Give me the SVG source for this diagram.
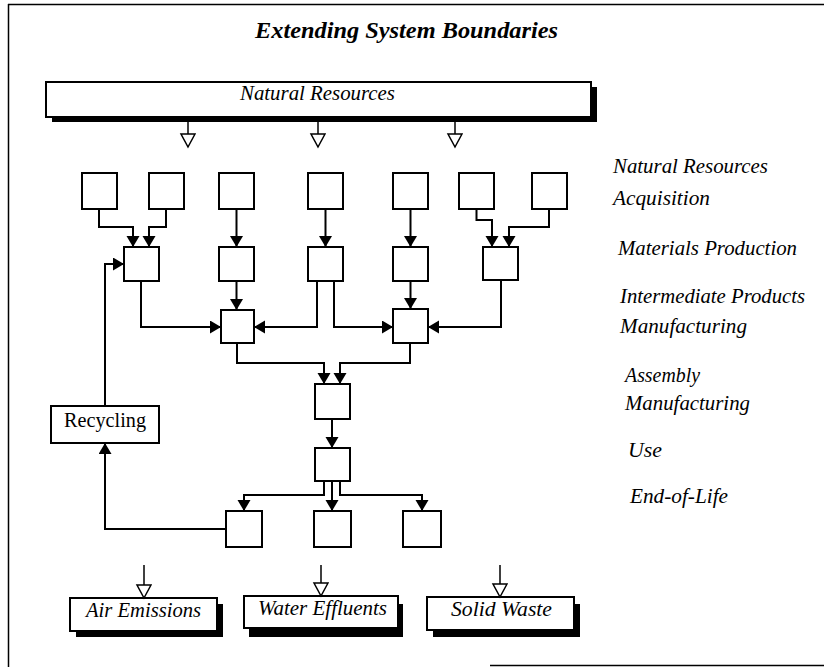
<svg xmlns="http://www.w3.org/2000/svg" width="824" height="667" viewBox="0 0 824 667">
<style>
.box{fill:#fff;stroke:#000;stroke-width:2}
.shadow{fill:#000}
.con{fill:none;stroke:#000;stroke-width:2}
.open{fill:none;stroke:#000;stroke-width:1.5}
.it{font-family:"Liberation Serif","Times New Roman",serif;font-style:italic;font-size:21px;fill:#000}
.title{font-family:"Liberation Serif","Times New Roman",serif;font-style:italic;font-weight:bold;font-size:24px;fill:#000}
.reg{font-family:"Liberation Serif","Times New Roman",serif;font-size:20px;fill:#000}
.frame{stroke:#000;stroke-width:1.5;fill:none}
</style>
<defs>
<marker id="fa" markerUnits="userSpaceOnUse" markerWidth="12" markerHeight="14" refX="11" refY="6.5" orient="auto">
<path d="M0,0 L11,6.5 L0,13 Z" fill="#000"/>
</marker>
<marker id="oa" markerUnits="userSpaceOnUse" markerWidth="16" markerHeight="18" refX="14" refY="8" orient="auto">
<path d="M1,1 L14,8 L1,15 Z" fill="#fff" stroke="#000" stroke-width="1.5"/>
</marker>
</defs>
<rect width="824" height="667" fill="#fff"/>
<g id="frame">
<line class="frame" x1="8" y1="4.5" x2="824" y2="4.5"/>
<line class="frame" x1="8.5" y1="4" x2="8.5" y2="667"/>
<line class="frame" x1="490" y1="665.5" x2="824" y2="665.5"/>
</g>
<text id="title" class="title" x="255" y="38" textLength="303" lengthAdjust="spacingAndGlyphs">Extending System Boundaries</text>

<g id="natural-resources">
<rect class="shadow" x="52" y="87" width="545" height="35"/>
<rect class="box" x="46" y="82" width="545" height="35"/>
<text class="it" x="240" y="100" textLength="155" lengthAdjust="spacingAndGlyphs">Natural Resources</text>
</g>

<g id="top-row">
<rect id="t1" class="box" x="82" y="173" width="35" height="36"/>
<rect id="t2" class="box" x="149" y="173" width="35" height="36"/>
<rect id="t3" class="box" x="219" y="173" width="35" height="36"/>
<rect id="t4" class="box" x="308" y="173" width="35" height="36"/>
<rect id="t5" class="box" x="393" y="173" width="35" height="36"/>
<rect id="t6" class="box" x="459" y="173" width="35" height="36"/>
<rect id="t7" class="box" x="532" y="173" width="35" height="36"/>
</g>
<g id="materials-row">
<rect id="mA" class="box" x="124" y="247" width="35" height="34"/>
<rect id="mB" class="box" x="219" y="247" width="35" height="34"/>
<rect id="mC" class="box" x="308" y="247" width="35" height="34"/>
<rect id="mD" class="box" x="393" y="247" width="35" height="34"/>
<rect id="mE" class="box" x="483" y="247" width="35" height="33"/>
</g>
<g id="intermediate-row">
<rect id="iF" class="box" x="221" y="310" width="33" height="33"/>
<rect id="iG" class="box" x="393" y="309" width="35" height="34"/>
</g>
<g id="assembly">
<rect class="box" x="315" y="384" width="35" height="35"/>
</g>
<g id="use">
<rect class="box" x="315" y="448" width="35" height="33"/>
</g>
<g id="eol-row">
<rect id="eJ" class="box" x="226" y="511" width="36" height="36"/>
<rect id="eK" class="box" x="314" y="511" width="37" height="36"/>
<rect id="eL" class="box" x="403" y="511" width="38" height="36"/>
</g>
<g id="recycling">
<rect class="box" x="51" y="406" width="108" height="37"/>
<text class="reg" x="64" y="427" textLength="82" lengthAdjust="spacingAndGlyphs">Recycling</text>
</g>

<g id="air-emissions">
<rect class="shadow" x="76" y="604" width="147" height="33"/>
<rect class="box" x="70" y="598" width="147" height="33"/>
<text class="it" x="86" y="617" textLength="115" lengthAdjust="spacingAndGlyphs">Air Emissions</text>
</g>
<g id="water-effluents">
<rect class="shadow" x="249" y="604" width="154" height="33"/>
<rect class="box" x="244" y="596" width="154" height="32"/>
<text class="it" x="258" y="615" textLength="129" lengthAdjust="spacingAndGlyphs">Water Effluents</text>
</g>
<g id="solid-waste">
<rect class="shadow" x="433" y="604" width="147" height="33"/>
<rect class="box" x="427" y="597" width="147" height="33"/>
<text class="it" x="451" y="616" textLength="101" lengthAdjust="spacingAndGlyphs">Solid Waste</text>
</g>

<g id="stage-labels">
<text class="it" x="613" y="173" textLength="155" lengthAdjust="spacingAndGlyphs">Natural Resources</text>
<text class="it" x="613" y="205" font-size="19" textLength="97" lengthAdjust="spacingAndGlyphs">Acquisition</text>
<text class="it" x="618" y="255" textLength="179" lengthAdjust="spacingAndGlyphs">Materials Production</text>
<text class="it" x="620" y="303" textLength="185" lengthAdjust="spacingAndGlyphs">Intermediate Products</text>
<text class="it" x="620" y="333" textLength="127" lengthAdjust="spacingAndGlyphs">Manufacturing</text>
<text class="it" x="625" y="382" textLength="75" lengthAdjust="spacingAndGlyphs">Assembly</text>
<text class="it" x="625" y="410" textLength="125" lengthAdjust="spacingAndGlyphs">Manufacturing</text>
<text class="it" x="628" y="457" textLength="34" lengthAdjust="spacingAndGlyphs">Use</text>
<text class="it" x="630" y="503" textLength="98" lengthAdjust="spacingAndGlyphs">End-of-Life</text>
</g>

<g id="connectors">
<line class="open" x1="188" y1="122" x2="188" y2="147" marker-end="url(#oa)"/>
<line class="open" x1="318" y1="122" x2="318" y2="147" marker-end="url(#oa)"/>
<line class="open" x1="455" y1="122" x2="455" y2="147" marker-end="url(#oa)"/>
<polyline class="con" points="99,209 99,227 133,227 133,247" marker-end="url(#fa)"/>
<polyline class="con" points="166,209 166,227 149,227 149,247" marker-end="url(#fa)"/>
<polyline class="con" points="236.5,209 236.5,247" marker-end="url(#fa)"/>
<polyline class="con" points="325.5,209 325.5,247" marker-end="url(#fa)"/>
<polyline class="con" points="410.5,209 410.5,247" marker-end="url(#fa)"/>
<polyline class="con" points="476.5,209 476.5,220 492,220 492,247" marker-end="url(#fa)"/>
<polyline class="con" points="549,209 549,227 509,227 509,247" marker-end="url(#fa)"/>
<polyline class="con" points="141,281 141,327 221,327" marker-end="url(#fa)"/>
<polyline class="con" points="236.5,281 236.5,310" marker-end="url(#fa)"/>
<polyline class="con" points="317,281 317,327 254,327" marker-end="url(#fa)"/>
<polyline class="con" points="334,281 334,327 393,327" marker-end="url(#fa)"/>
<polyline class="con" points="410.5,281 410.5,309" marker-end="url(#fa)"/>
<polyline class="con" points="501,280 501,327 428,327" marker-end="url(#fa)"/>
<polyline class="con" points="237,343 237,363 324,363 324,384" marker-end="url(#fa)"/>
<polyline class="con" points="410,343 410,363 340,363 340,384" marker-end="url(#fa)"/>
<polyline class="con" points="332,419 332,448" marker-end="url(#fa)"/>
<polyline class="con" points="324,481 324,495 244,495 244,511" marker-end="url(#fa)"/>
<polyline class="con" points="332,481 332,511" marker-end="url(#fa)"/>
<polyline class="con" points="340,481 340,495 422,495 422,511" marker-end="url(#fa)"/>
<polyline class="con" points="226,529 105,529 105,443" marker-end="url(#fa)"/>
<polyline class="con" points="105,406 105,264 124,264" marker-end="url(#fa)"/>
<line class="open" x1="144" y1="565" x2="144" y2="598" marker-end="url(#oa)"/>
<line class="open" x1="321" y1="565" x2="321" y2="596" marker-end="url(#oa)"/>
<line class="open" x1="500" y1="565" x2="500" y2="597" marker-end="url(#oa)"/>
</g>
</svg>
